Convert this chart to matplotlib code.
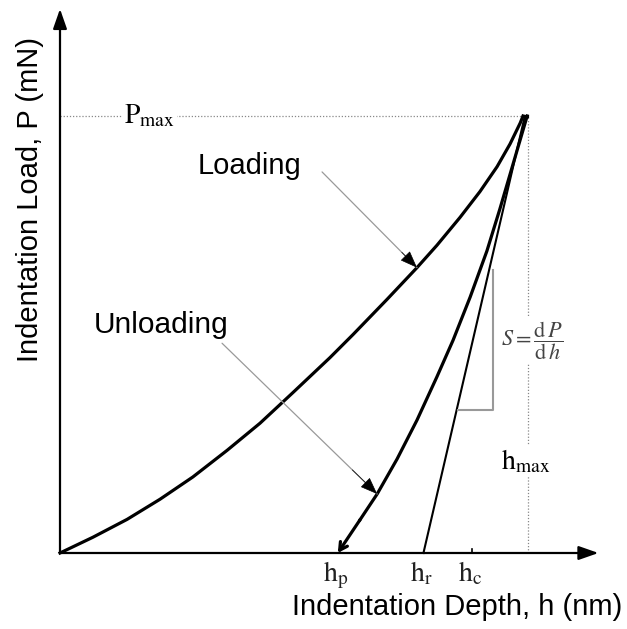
import matplotlib.pyplot as plt

plt.rcParams['font.family'] = ['Liberation Sans', 'DejaVu Sans']
plt.rcParams['mathtext.fontset'] = 'stix'

# loading / unloading curves (h in nm, P in mN)
load_h = [0, 71, 145, 216, 287, 361, 432, 503, 583, 633, 706, 771, 814, 864, 907, 944, 972, 994, 1000]
load_P = [0, 0.36, 0.77, 1.23, 1.74, 2.35, 2.97, 3.67, 4.47, 5.00, 5.80, 6.53, 7.04, 7.68, 8.27, 8.84, 9.36, 9.84, 10.0]

unload_h = [1009, 950, 922, 886, 849, 814, 771, 728, 685, 648, 600]
unload_P = [10.0, 7.87, 6.91, 5.86, 4.87, 4.03, 3.04, 2.15, 1.35, 0.76, 0]

P_max = 10.0
h_max = 1011
h_p = 600
h_r = 785
h_c = 890

# slope triangle corners
tri_h = [860, 935, 935]
tri_P = [3.27, 3.27, 6.48]

fig = plt.figure(figsize=(6.27, 6.29), dpi=100)
ax = fig.add_axes([60 / 627, 76 / 629, 1200 * 0.463 / 627, 12.6 * 43.7 / 629])
ax.set_xlim(0, 1200)
ax.set_ylim(0, 12.6)
ax.axis('off')

# axes with arrow heads
ax.annotate('', xy=(1163, 0), xytext=(0, 0),
            arrowprops=dict(arrowstyle='-|>,head_length=1.2,head_width=0.42',
                            color='black', lw=1.6, shrinkA=0, shrinkB=0),
            annotation_clip=False)
ax.annotate('', xy=(0, 12.45), xytext=(0, 0),
            arrowprops=dict(arrowstyle='-|>,head_length=1.2,head_width=0.42',
                            color='black', lw=1.6, shrinkA=0, shrinkB=0),
            annotation_clip=False)

# dotted guide lines
dot = dict(color='#888888', lw=0.9, linestyle=(0, (1, 1.5)), clip_on=False)
ax.plot([0, h_max], [P_max, P_max], **dot)
ax.plot([h_max, h_max], [0, P_max], **dot)

# curves
ax.plot(load_h, load_P, color='black', lw=2.3, solid_joinstyle='round', clip_on=False)
ax.plot(unload_h[:-1], unload_P[:-1], color='black', lw=2.3, solid_joinstyle='round',
        clip_on=False)
ax.plot([load_h[-1], unload_h[0]], [P_max, P_max], color='black', lw=2.3, clip_on=False)
ax.annotate('', xy=(h_p, 0), xytext=(unload_h[-2], unload_P[-2]),
            arrowprops=dict(arrowstyle='->,head_length=0.55,head_width=0.3',
                            color='black', lw=2.3, shrinkA=0, shrinkB=0))

# tangent line and slope triangle
ax.plot([unload_h[0] - 5, h_r], [P_max, 0], color='black', lw=1.5, clip_on=False)
ax.plot(tri_h, tri_P, color='#999999', lw=1.5)
ax.plot([h_c, h_c], [0, 0.1], color='black', lw=1.2)


def pointer(text_xy, tip_xy):
    ax.annotate('', xy=tip_xy, xytext=text_xy,
                arrowprops=dict(arrowstyle='-', color='#999999', lw=0.9,
                                shrinkA=0, shrinkB=0))
    dx = tip_xy[0] - text_xy[0]
    dy = tip_xy[1] - text_xy[1]
    f = 0.16
    ax.annotate('', xy=tip_xy, xytext=(tip_xy[0] - dx * f, tip_xy[1] - dy * f),
                arrowprops=dict(arrowstyle='-|>,head_length=1.1,head_width=0.42',
                                color='black', lw=0.5, shrinkA=0, shrinkB=0))


pointer((566, 8.72), (771, 6.53))
pointer((350, 4.80), (685, 1.35))

# text
ax.text(410, 8.85, 'Loading', fontsize=21, ha='center', va='center')
ax.text(218, 5.22, 'Unloading', fontsize=21.5, ha='center', va='center')

bg = dict(facecolor='white', edgecolor='none', pad=1)
ax.text(194, 10.0, r'$\mathrm{P}_{\mathrm{max}}$', fontsize=20, ha='center',
        va='center', bbox=bg)
ax.text(1006, 2.1, r'$\mathrm{h}_{\mathrm{max}}$', fontsize=20, ha='center',
        va='center', bbox=bg)
ax.text(1020, 4.87, r'$S=\dfrac{\mathrm{d}\,P}{\mathrm{d}\,h}$', fontsize=16,
        ha='center', va='center', color='#444444', bbox=bg)

for hv, lab in [(h_p, 'p'), (h_r, 'r'), (h_c, 'c')]:
    ax.text(hv - 5, -0.15, r'$\mathrm{h}_{\mathrm{' + lab + '}}$', fontsize=20,
            ha='center', va='top', color='#222222', clip_on=False)

ax.text(857, -1.24, 'Indentation Depth, h (nm)', fontsize=21, ha='center',
        va='center', clip_on=False)
ax.text(-65, 8.1, 'Indentation Load, P (mN)', fontsize=21, ha='center',
        va='center', rotation=90, clip_on=False)

fig.savefig('out.png', dpi=100)
